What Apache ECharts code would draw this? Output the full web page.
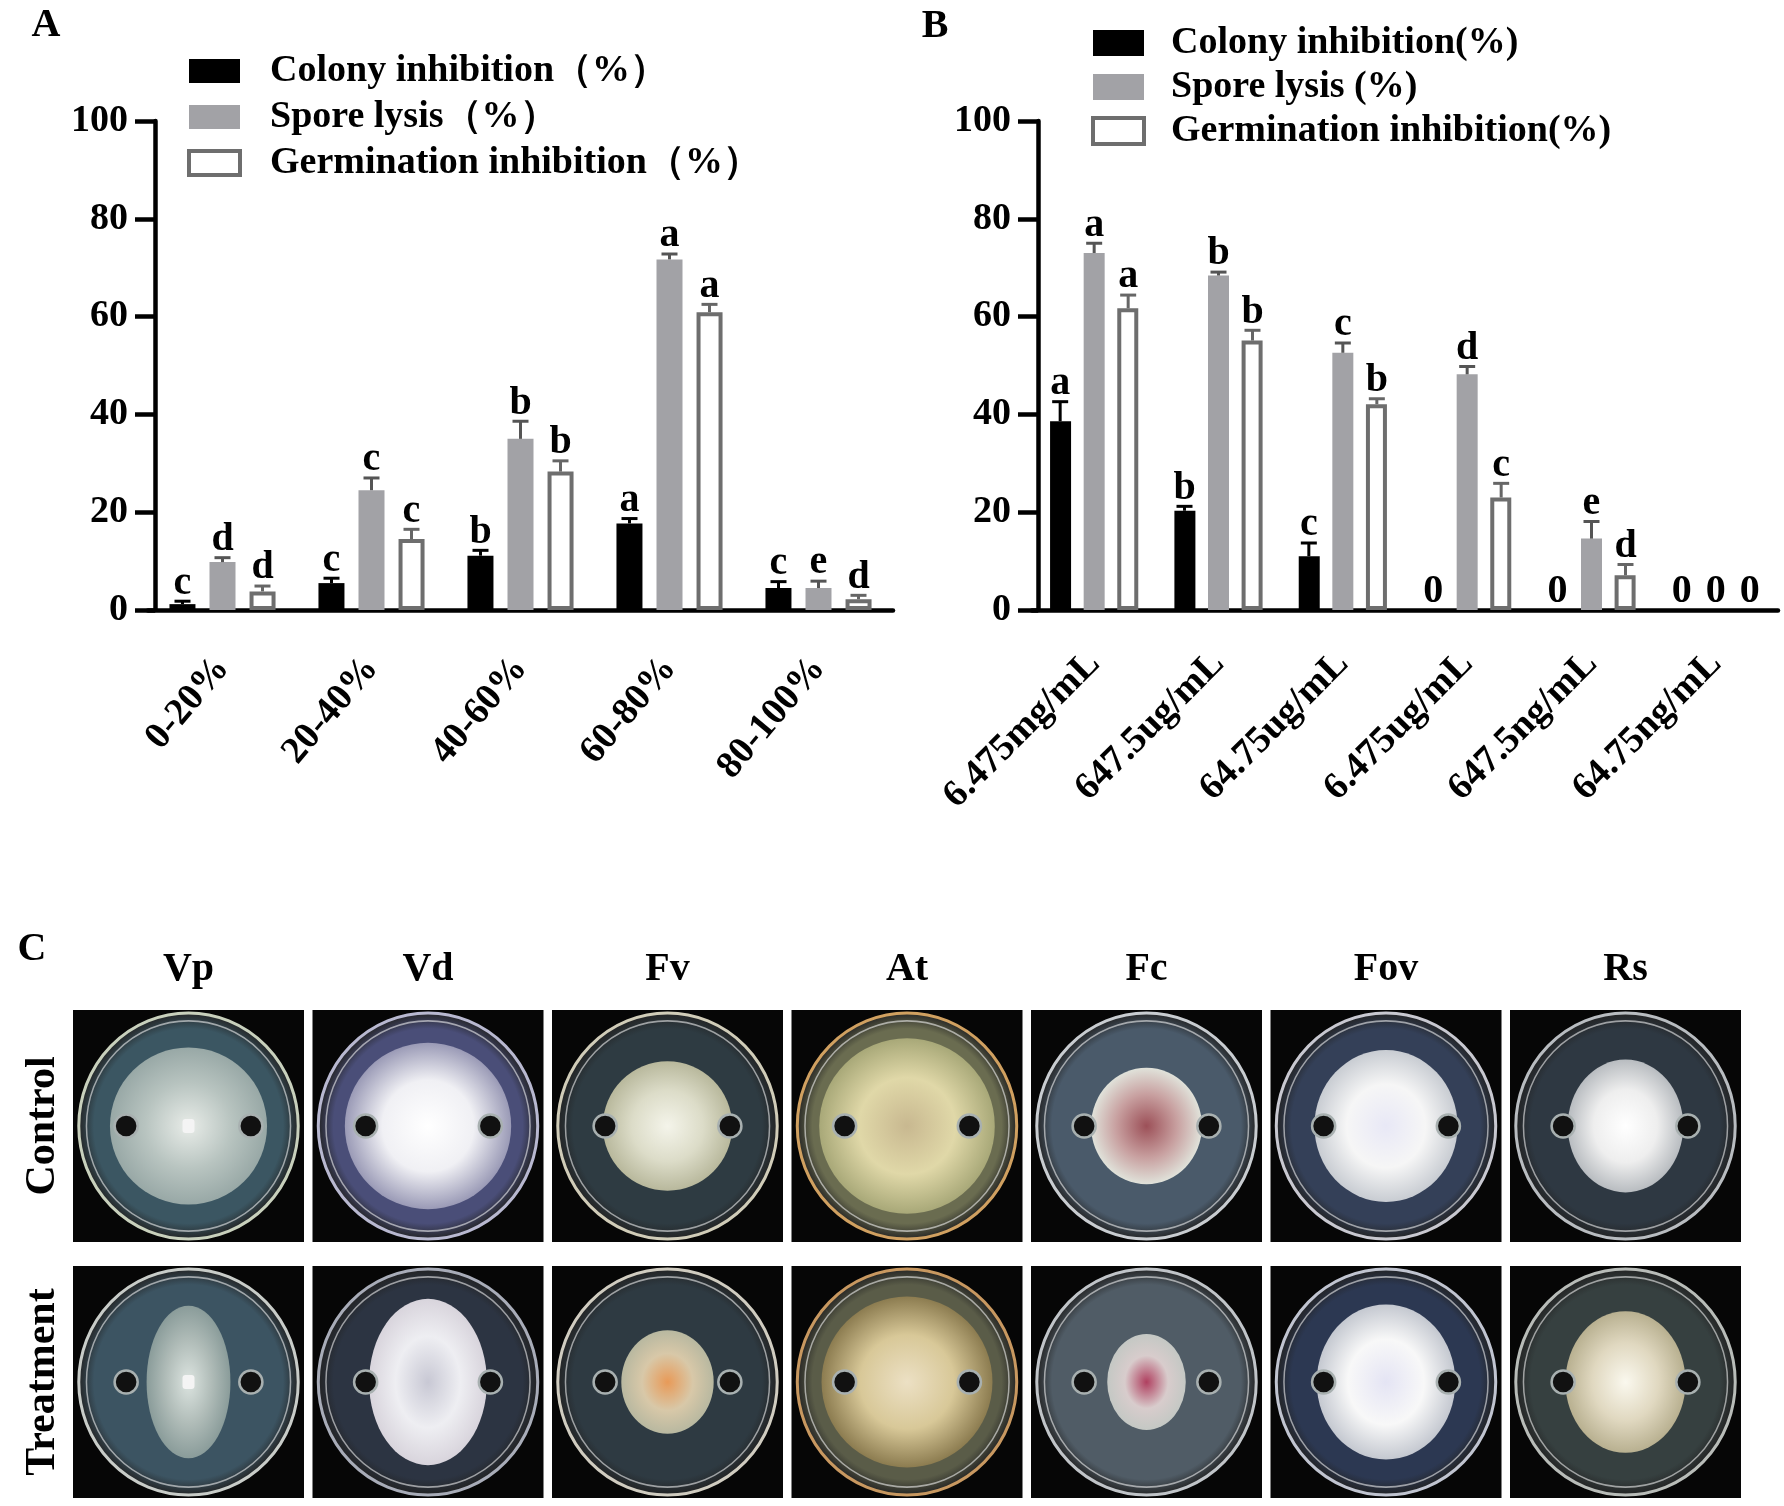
<!DOCTYPE html>
<html><head><meta charset="utf-8">
<script src="https://cdn.jsdelivr.net/npm/echarts@6/dist/echarts.min.js"></script>
<style>html,body{margin:0;padding:0;background:#fff}#c{width:1784px;height:1506px}</style>
</head><body><div id="c"></div>
<script>
// ---------- Panel A data ----------
const catsA = ['0-20%', '20-40%', '40-60%', '60-80%', '80-100%'];
const namesA = ['Colony inhibition（%）', 'Spore lysis（%）', 'Germination inhibition（%）'];
const colonyA = [1.2, 5.5, 11.1, 17.7, 4.5];
const colonySdA = [0.6, 1.0, 1.1, 1.0, 1.3];
const sporeA = [9.8, 24.5, 35.0, 71.7, 4.5];
const sporeSdA = [0.9, 2.5, 3.6, 1.1, 1.4];
const germA = [3.8, 14.5, 28.3, 60.9, 2.2];
const germSdA = [1.1, 2.0, 2.2, 1.6, 0.8];
const colonyLetA = ['c', 'c', 'b', 'a', 'c'];
const sporeLetA = ['d', 'c', 'b', 'a', 'e'];
const germLetA = ['d', 'c', 'b', 'a', 'd'];

// ---------- Panel B data ----------
const catsB = ['6.475mg/mL', '647.5ug/mL', '64.75ug/mL', '6.475ug/mL', '647.5ng/mL', '64.75ng/mL'];
const namesB = ['Colony inhibition(%)', 'Spore lysis (%)', 'Germination inhibition(%)'];
const colonyB = [38.6, 20.3, 11.0, 0, 0, 0];
const colonySdB = [4.0, 0.9, 2.7, 0, 0, 0];
const sporeB = [73.0, 68.4, 52.6, 48.2, 14.6, 0];
const sporeSdB = [2.0, 0.7, 2.0, 1.6, 3.5, 0];
const germB = [61.7, 55.1, 42.1, 23.0, 7.1, 0];
const germSdB = [2.7, 2.1, 1.1, 2.9, 2.2, 0];
const colonyLetB = ['a', 'b', 'c', '0', '0', '0'];
const sporeLetB = ['a', 'b', 'c', 'd', 'e', '0'];
const germLetB = ['a', 'b', 'b', 'c', 'd', '0'];

const yTicks = [0, 20, 40, 60, 80, 100];

// ---------- Panel C labels ----------
const fungi = ['Vp', 'Vd', 'Fv', 'At', 'Fc', 'Fov', 'Rs'];
const rows = ['Control', 'Treatment'];

const FF = "'Times New Roman','Liberation Serif',serif";
const BLACK = '#000000', GRAY = '#a2a2a6', EDGE = '#6e6e6e';

function errSeries(gi, vals, sds, lets, off, color) {
  return {
    type: 'custom', xAxisIndex: gi, yAxisIndex: gi, z: 5, silent: true,
    encode: { x: 0, y: 1 },
    data: vals.map((v, i) => [i, v, sds[i]]),
    renderItem: function (params, api) {
      const i = api.value(0), v = api.value(1), sd = api.value(2);
      const b = api.coord([i, v]);
      const t = api.coord([i, v + sd]);
      const x = b[0] + off;
      const ch = [];
      if (sd > 0) {
        ch.push({ type: 'line', shape: { x1: x, y1: b[1], x2: x, y2: t[1] }, style: { stroke: color, lineWidth: 3 } });
        ch.push({ type: 'line', shape: { x1: x - 8, y1: t[1], x2: x + 8, y2: t[1] }, style: { stroke: color, lineWidth: 3 } });
      }
      ch.push({ type: 'text', x: x, y: t[1] + 2,
        style: { text: lets[params.dataIndex], font: 'bold 40px ' + FF, fill: '#000', align: 'center', verticalAlign: 'bottom', textAlign: 'center', textVerticalAlign: 'bottom' } });
      return { type: 'group', children: ch };
    }
  };
}

function barSeries(gi, name, vals, color, bw, gap, isWhite) {
  return {
    type: 'bar', name: name, xAxisIndex: gi, yAxisIndex: gi,
    data: vals.map(v => (isWhite && v === 0) ? { value: v, itemStyle: { borderWidth: 0, color: 'rgba(0,0,0,0)' } } : v),
    barWidth: bw, barGap: gap,
    itemStyle: isWhite ? { color: '#ffffff', borderColor: EDGE, borderWidth: 4 } : { color: color }
  };
}

const axisTxt = { color: '#000', fontFamily: FF, fontWeight: 'bold', fontSize: 38 };

function xAx(gi, cats, rot, margin) {
  return {
    gridIndex: gi, type: 'category', data: cats,
    axisLine: { lineStyle: { color: '#000', width: 4.5 } },
    axisTick: { alignWithLabel: true, length: 20, lineStyle: { color: '#000', width: 4.5 } },
    axisLabel: Object.assign({ rotate: rot, margin: margin, interval: 0 }, axisTxt)
  };
}
function yAx(gi, off) {
  return {
    gridIndex: gi, type: 'value', min: yTicks[0], max: yTicks[yTicks.length - 1], interval: yTicks[1] - yTicks[0],
    offset: off,
    axisLine: { show: true, lineStyle: { color: '#000', width: 4.5 } },
    axisTick: { show: true, length: 20, lineStyle: { color: '#000', width: 4.5 } },
    splitLine: { show: false },
    axisLabel: Object.assign({ margin: 27 }, axisTxt)
  };
}
function legendOf(names, left, top, ih, gap, padL) {
  return {
    orient: 'vertical', left: left, top: top, padding: 0, itemWidth: 51, itemHeight: ih, itemGap: gap,
    selectedMode: false, icon: 'rect',
    data: [
      { name: names[0], itemStyle: { color: BLACK, borderWidth: 0 } },
      { name: names[1], itemStyle: { color: GRAY, borderWidth: 0 } },
      { name: names[2], itemStyle: { color: '#fff', borderColor: EDGE, borderWidth: 4 } }
    ],
    textStyle: { color: '#000', fontFamily: FF, fontWeight: 'bold', fontSize: 38, padding: [0, 0, 0, padL], lineHeight: ih }
  };
}

// ---------- Panel C decoration (photo stand-ins) ----------
const dishStyle = [
  [{ agar: '#3b5662', rim: '#c8d0bc', r: .34, sx: 1, sy: 1, st: ['#e8ece8', '#b8c4c0', '#98a8a6'], plug: true },
   { agar: '#3c5462', rim: '#c8ccc8', r: .33, sx: .55, sy: 1, st: ['#dce4e0', '#b0bcb8', '#8a9c9a'], plug: true }],
  [{ agar: '#4a4e78', rim: '#b8b8d0', r: .36, sx: 1, sy: 1, st: ['#ffffff', '#f0f0f4', '#9a9ab6'] },
   { agar: '#2c3442', rim: '#a8acb8', r: .3, sx: .85, sy: 1.2, st: ['#c8c8d4', '#eeeef2', '#d8d4dc'] }],
  [{ agar: '#2e3b42', rim: '#d0ccb8', r: .28, sx: 1, sy: 1, st: ['#f4f4ea', '#dcdcc8', '#b8b89c'] },
   { agar: '#2e3a42', rim: '#d0ccc0', r: .2, sx: 1, sy: 1.12, st: ['#e89a58', '#d8c8a8', '#b8b8a0'] }],
  [{ agar: '#6a6c50', rim: '#d0a060', r: .38, sx: 1, sy: 1, st: ['#c8b890', '#e0d8a8', '#a8a878'] },
   { agar: '#5a5c48', rim: '#c89860', r: .37, sx: 1, sy: 1, st: ['#ece0c4', '#d8c898', '#8c7c50'] }],
  [{ agar: '#4a5a6a', rim: '#c8ccd0', r: .24, sx: 1, sy: 1.05, st: ['#9c5058', '#c8a0a0', '#e0e2da'] },
   { agar: '#505c66', rim: '#c0c4c8', r: .17, sx: 1, sy: 1.22, st: ['#b04060', '#d8cccc', '#c4c8c4'] }],
  [{ agar: '#344058', rim: '#c8c8d0', r: .31, sx: 1, sy: 1.06, st: ['#e8e8f6', '#f6f6f6', '#c8ccd2'] },
   { agar: '#2c3852', rim: '#c0c4d0', r: .3, sx: 1, sy: 1.12, st: ['#e4e4f4', '#f8f8f8', '#c4c8d0'] }],
  [{ agar: '#2e3842', rim: '#b8bcc0', r: .25, sx: 1, sy: 1.15, st: ['#ffffff', '#eeeeee', '#b8bcc0'] },
   { agar: '#364040', rim: '#b8bcb8', r: .26, sx: 1, sy: 1.18, st: ['#faf8ee', '#e0d8c0', '#b8b090'] }]
];

function dishGraphic(x, y, w, h, s) {
  const cx = x + w / 2, cy = y + h / 2, R = w * 0.475;
  const ch = [];
  ch.push({ type: 'rect', shape: { x: x, y: y, width: w, height: h }, style: { fill: '#060606' } });
  ch.push({ type: 'circle', x: cx, y: cy, scaleY: 1.03, shape: { cx: 0, cy: 0, r: R },
    style: { fill: { type: 'radial', x: .5, y: .5, r: .5, colorStops: [{ offset: 0, color: s.agar }, { offset: .85, color: s.agar }, { offset: 1, color: '#222' }] }, stroke: s.rim, lineWidth: 3 } });
  ch.push({ type: 'circle', x: cx, y: cy, scaleY: 1.03, shape: { cx: 0, cy: 0, r: R * 0.93 }, style: { fill: null, stroke: 'rgba(255,255,255,0.55)', lineWidth: 1.5 } });
  ch.push({ type: 'circle', x: cx, y: cy, scaleX: s.sx, scaleY: s.sy, shape: { cx: 0, cy: 0, r: w * s.r },
    style: { fill: { type: 'radial', x: .5, y: .5, r: .5, colorStops: [{ offset: 0, color: s.st[0] }, { offset: .55, color: s.st[1] }, { offset: 1, color: s.st[2] }] } } });
  if (s.plug) ch.push({ type: 'rect', shape: { x: cx - 6, y: cy - 7, width: 12, height: 14, r: 3 }, style: { fill: '#f4f4f4' } });
  [-1, 1].forEach(function (d) {
    ch.push({ type: 'circle', shape: { cx: cx + d * w * 0.27, cy: cy, r: w * 0.05 }, style: { fill: '#111', stroke: '#a8b0b0', lineWidth: 2.5 } });
  });
  return { type: 'group', children: ch, silent: true };
}

const graphics = [];
const lab = (t, x, y, size, extra) => Object.assign({ type: 'text', x: x, y: y, silent: true,
  style: { text: t, font: 'bold ' + size + 'px ' + FF, fill: '#000', align: 'center', verticalAlign: 'middle', textAlign: 'center', textVerticalAlign: 'middle' } }, extra || {});
graphics.push(lab('A', 46, 26, 40));
graphics.push(lab('B', 935, 27, 40));
graphics.push(lab('C', 32, 950, 40));
const FW = 231, FH = 232, FX0 = 73, FSTEP = 239.5, FY = [1010, 1266];
fungi.forEach(function (f, i) {
  const fx = FX0 + i * FSTEP;
  graphics.push(lab(f, fx + FW / 2, 970, 40));
  FY.forEach(function (fy, r) { graphics.push(dishGraphic(fx, fy, FW, FH, dishStyle[i][r])); });
});
graphics.push(lab(rows[0], 43, FY[0] + FH / 2, 42, { rotation: Math.PI / 2 }));
graphics.push(lab(rows[1], 43, FY[1] + FH / 2, 42, { rotation: Math.PI / 2 }));

const bwA = 26, gapA = '54%', stepA = 40;
const bwB = 21, gapB = '60%', stepB = 34;

const option = {
  animation: false,
  backgroundColor: '#ffffff',
  textStyle: { fontFamily: FF },
  legend: [legendOf(namesA, 187, 52, 24, 8, 25), legendOf(namesB, 1091, 24, 26, 6, 22)],
  grid: [
    { left: 148, top: 121, width: 745, height: 489 },
    { left: 1032, top: 121, width: 746, height: 489 }
  ],
  xAxis: [xAx(0, catsA, 50, 52), xAx(1, catsB, 45, 48)],
  yAxis: [yAx(0, -7), yAx(1, -6)],
  graphic: graphics,
  series: [
    barSeries(0, namesA[0], colonyA, BLACK, bwA, gapA),
    barSeries(0, namesA[1], sporeA, GRAY, bwA, gapA),
    barSeries(0, namesA[2], germA, '#fff', bwA, gapA, true),
    errSeries(0, colonyA, colonySdA, colonyLetA, -stepA, '#000'),
    errSeries(0, sporeA, sporeSdA, sporeLetA, 0, '#555'),
    errSeries(0, germA, germSdA, germLetA, stepA, '#666'),
    barSeries(1, namesB[0], colonyB, BLACK, bwB, gapB),
    barSeries(1, namesB[1], sporeB, GRAY, bwB, gapB),
    barSeries(1, namesB[2], germB, '#fff', bwB, gapB, true),
    errSeries(1, colonyB, colonySdB, colonyLetB, -stepB, '#000'),
    errSeries(1, sporeB, sporeSdB, sporeLetB, 0, '#555'),
    errSeries(1, germB, germSdB, germLetB, stepB, '#666')
  ]
};
const chart = echarts.init(document.getElementById('c'), null, { renderer: 'canvas', width: 1784, height: 1506 });
chart.setOption(option);
</script>
</body></html>
